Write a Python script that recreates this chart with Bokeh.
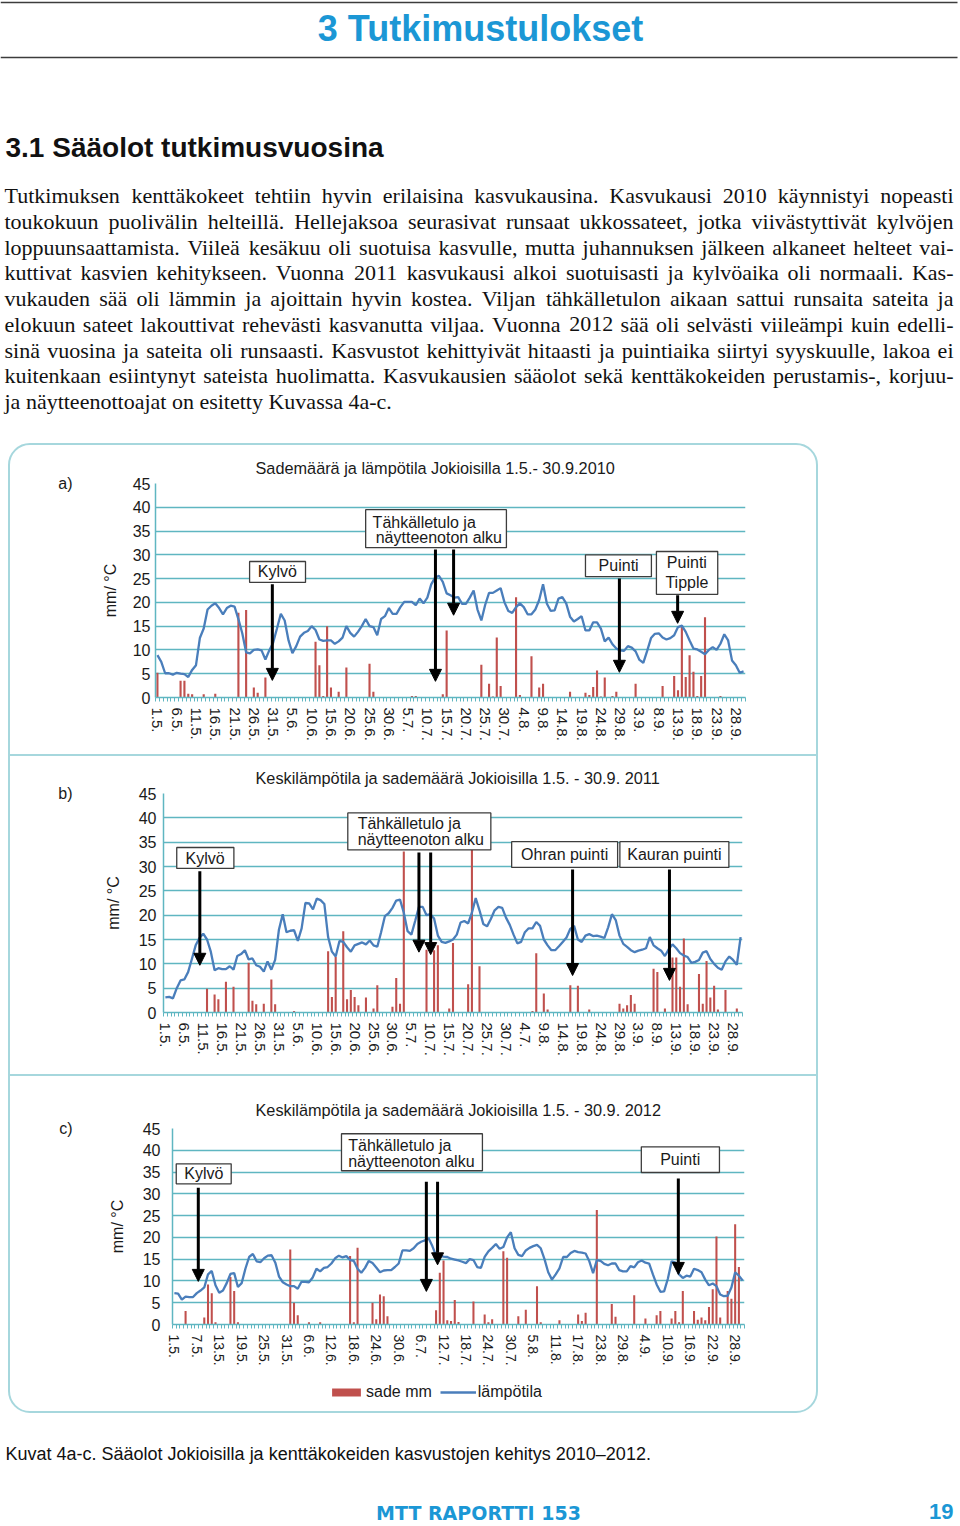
import math
from bokeh.plotting import figure
from bokeh.models import (Range1d, FixedTicker, Arrow, NormalHead, Legend, LegendItem, LinearAxis)
from bokeh.layouts import column
from bokeh.core.properties import value
from bokeh.embed import file_html
from bokeh.resources import INLINE

# ------------------------------------------------------------------ data
# daily mean temperature (deg C), 1.5. - 30.9. (153 days)
temp_2010 = [
    8.9, 7.5, 5.1, 5.1, 4.8, 5.2, 5.0, 4.9, 4.3, 5.8,
    6.8, 12.5, 14.5, 18.5, 19.3, 19.8, 18.8, 17.5, 18.8, 19.3,
    19.1, 16.5, 13.5, 9.5, 9.3, 10.0, 10.1, 9.9, 8.0, 9.9,
    11.5, 14.5, 17.6, 16.2, 12.0, 9.3, 10.8, 12.8, 13.6, 14.0,
    15.0, 14.2, 12.2, 11.9, 12.0, 12.0, 11.3, 11.8, 12.6, 15.0,
    13.6, 12.8, 13.8, 15.0, 16.5, 15.0, 14.8, 13.1, 16.5, 17.1,
    18.8, 17.6, 17.6, 19.0, 20.1, 20.1, 20.1, 19.4, 20.8, 19.8,
    21.0, 23.8, 25.2, 25.6, 24.3, 21.9, 21.5, 21.0, 21.1, 19.7,
    19.7, 21.0, 22.5, 18.5, 16.2, 19.5, 22.0, 22.0, 22.5, 23.0,
    20.0, 18.2, 17.8, 19.0, 19.8, 19.0, 17.5, 17.5, 18.5, 20.5,
    23.8, 19.7, 18.2, 18.3, 20.8, 21.1, 19.8, 17.0, 16.0, 16.5,
    17.1, 14.1, 14.1, 15.8, 15.8, 14.5, 11.8, 12.6, 11.2, 10.3,
    9.9, 9.8, 10.8, 10.5, 9.7, 7.9, 7.3, 9.8, 12.5, 13.4,
    13.5, 12.6, 12.2, 12.5, 13.1, 14.8, 15.1, 13.8, 12.0, 10.3,
    10.1, 9.6, 9.1, 10.0, 10.6, 10.0, 11.3, 13.3, 12.0, 7.8,
    6.8, 5.2, 5.5]
temp_2011 = [
    3.1, 3.2, 2.9, 5.0, 6.6, 6.8, 8.3, 11.0, 13.8, 15.3,
    16.2, 15.0, 12.5, 8.7, 9.1, 8.9, 8.9, 9.5, 8.8, 11.6,
    12.0, 12.8, 10.9, 11.1, 9.7, 9.4, 8.4, 10.5, 8.8, 10.8,
    17.0, 20.2, 16.5, 16.8, 16.9, 14.7, 17.3, 22.5, 22.4, 21.2,
    23.4, 23.1, 22.3, 15.5, 12.5, 11.5, 14.7, 14.5, 13.4, 12.5,
    13.8, 14.1, 14.4, 14.0, 14.8, 13.8, 13.5, 16.5, 19.8, 20.4,
    21.5, 23.0, 23.2, 20.5, 16.7, 16.0, 18.8, 21.7, 21.7, 20.0,
    20.2, 19.3, 15.8, 14.5, 14.3, 14.6, 15.0, 16.0, 18.5, 18.8,
    18.3, 20.5, 23.5, 21.0, 18.2, 17.7, 19.2, 21.0, 21.7, 21.5,
    19.5, 18.0, 16.0, 14.2, 14.5, 16.5, 17.3, 17.3, 18.6, 17.8,
    15.0, 13.8, 12.8, 12.8, 13.6, 14.5, 15.4, 17.2, 17.8, 15.0,
    14.5, 15.8, 16.1, 15.7, 15.8, 15.6, 15.3, 17.5, 20.2, 19.0,
    15.8, 14.1, 13.5, 12.8, 12.4, 12.7, 12.9, 13.2, 15.5, 13.8,
    13.2, 12.7, 11.6, 13.0, 14.0, 13.2, 12.2, 11.7, 11.4, 10.2,
    10.4, 10.8, 12.3, 12.6, 11.0, 10.0, 9.2, 8.8, 10.5, 11.5,
    10.8, 9.8, 15.5]
temp_2012 = [
    7.2, 7.1, 5.7, 6.4, 6.3, 6.3, 7.2, 7.8, 8.5, 11.5,
    12.3, 9.0, 7.3, 7.8, 9.5, 11.6, 11.8, 8.6, 9.5, 12.8,
    15.5, 16.2, 14.5, 14.3, 15.2, 15.8, 15.9, 14.2, 11.0, 9.7,
    9.2, 8.8, 8.8, 8.2, 9.8, 9.8, 9.7, 10.8, 12.8, 12.2,
    13.0, 13.2, 14.0, 15.2, 15.8, 15.4, 15.7, 14.8, 14.6, 12.8,
    11.9, 13.0, 14.6, 14.1, 13.1, 12.0, 12.4, 12.5, 12.5, 13.2,
    14.0, 17.0, 17.0, 16.9, 17.5, 18.5, 19.0, 19.3, 19.8, 18.0,
    15.8, 15.8, 15.6, 15.5, 15.1, 14.9, 14.7, 14.4, 14.1, 15.0,
    14.8, 13.2, 13.0, 15.5, 16.8, 17.6, 18.5, 17.4, 17.8, 20.0,
    21.2, 17.5, 16.0, 15.7, 17.0, 17.6, 18.0, 18.3, 17.5, 15.0,
    12.0, 10.3, 11.5, 12.9, 15.5, 15.5, 16.4, 16.9, 16.6, 16.5,
    16.3, 14.5, 11.8, 14.8, 14.6, 13.9, 13.6, 14.0, 14.0, 12.5,
    12.2, 12.2, 13.4, 13.1, 14.3, 14.7, 14.2, 14.0, 11.5, 9.2,
    7.5, 7.6, 10.5, 14.5, 14.2, 11.5, 10.7, 11.2, 11.0, 12.8,
    12.5, 12.0, 10.3, 9.0, 9.4, 8.8, 6.9, 6.5, 6.6, 8.5,
    12.0, 11.2, 10.1]

# daily rainfall (mm): day index (0 = 1.5.) and amount
rain_2010_day = [0, 6, 7, 8, 9, 12, 15, 21, 23, 25, 26, 28, 41, 42, 43, 44, 45, 47, 49, 55,
                 56, 66, 67, 74, 75, 84, 86, 87, 88, 89, 93, 94, 97, 99, 100, 107, 111, 112, 113, 114,
                 115, 116, 118, 119, 124, 131, 134, 135, 136, 137, 138, 139, 140, 141, 142, 146]
rain_2010_mm = [5.2, 3.5, 3.5, 0.8, 0.7, 0.7, 0.8, 17.8, 18.4, 2.1, 1.0, 4.2, 11.7, 6.8, 0.3, 15.0, 2.1, 1.2, 6.3, 7.1,
                1.2, 0.3, 0.3, 0.7, 14.1, 6.9, 2.9, 0.2, 12.6, 2.4, 21.1, 0.5, 8.7, 2.1, 2.9, 1.2, 1.0, 0.5, 2.2, 5.7,
                0.2, 4.2, 0.3, 1.2, 2.9, 2.4, 4.5, 1.5, 14.8, 4.3, 8.9, 5.4, 0.3, 4.5, 16.9, 0.3]
rain_2011_day = [11, 13, 14, 16, 18, 22, 23, 24, 26, 28, 29, 34, 43, 44, 45, 47, 48, 49, 50, 51,
                 53, 55, 56, 60, 61, 62, 63, 69, 71, 72, 75, 76, 80, 81, 83, 97, 98, 100, 101, 107,
                 109, 112, 120, 121, 122, 123, 124, 129, 130, 132, 134, 135, 136, 137, 138, 141, 142, 143, 144, 145,
                 146, 148, 151]
rain_2011_mm = [4.9, 3.7, 2.7, 6.3, 5.3, 10.2, 2.4, 1.7, 1.8, 6.8, 1.7, 0.3, 12.6, 3.2, 11.4, 16.7, 2.7, 4.6, 3.2, 1.5,
                3.1, 0.8, 5.6, 1.2, 7.1, 1.8, 33.1, 12.9, 12.8, 13.8, 0.8, 14.3, 5.8, 40.1, 9.5, 0.3, 12.2, 3.9, 0.6, 5.6,
                5.5, 0.6, 1.8, 0.8, 1.5, 3.6, 1.8, 9.0, 8.3, 0.8, 11.3, 11.3, 5.3, 15.2, 1.7, 7.9, 1.8, 10.6, 3.1, 5.5,
                0.6, 4.6, 0.8]
rain_2012_day = [3, 8, 9, 10, 11, 15, 16, 17, 31, 32, 33, 36, 39, 47, 48, 49, 53, 54, 55, 56,
                 57, 70, 71, 72, 73, 74, 75, 76, 80, 83, 84, 85, 88, 89, 92, 94, 97, 98, 103, 108,
                 109, 110, 113, 117, 118, 123, 126, 129, 130, 133, 134, 135, 136, 139, 140, 141, 142, 143, 144, 145,
                 146, 148, 149, 150, 151]
rain_2012_mm = [3.1, 1.6, 9.2, 7.2, 0.5, 10.9, 7.7, 0.5, 17.2, 5.0, 2.1, 0.5, 0.5, 15.7, 0.5, 17.6, 5.0, 1.2, 6.9, 6.5,
                1.9, 3.3, 11.9, 14.7, 1.0, 0.8, 5.6, 0.6, 5.3, 2.3, 0.5, 1.2, 16.8, 15.3, 1.9, 3.4, 8.8, 0.5, 1.0, 2.3,
                0.8, 2.7, 26.3, 4.7, 1.8, 6.7, 1.4, 2.1, 3.1, 1.4, 3.1, 0.5, 7.7, 3.1, 1.1, 1.6, 1.0, 4.0, 8.1, 20.2,
                1.6, 7.7, 5.9, 23.0, 13.2]

# x tick labels
ticks_5 = [0, 5, 10, 15, 20, 25, 30, 35, 40, 45, 50, 55, 60, 65, 70, 75, 80, 85, 90, 95,
           100, 105, 110, 115, 120, 125, 130, 135, 140, 145, 150]
labels_2010 = ["1.5.", "6.5.", "11.5.", "16.5.", "21.5.", "26.5.", "31.5.", "5.6.", "10.6.", "15.6.",
               "20.6.", "25.6.", "30.6.", "5.7.", "10.7.", "15.7.", "20.7.", "25.7.", "30.7.", "4.8.",
               "9.8.", "14.8.", "19.8.", "24.8.", "29.8.", "3.9.", "8.9.", "13.9.", "18.9.", "23.9.", "28.9."]
labels_2011 = ["1.5.", "6.5.", "11.5.", "16.5.", "21.5.", "26.5.", "31.5.", "5.6.", "10.6.", "15.6.",
               "20.6.", "25.6.", "30.6.", "5.7.", "10.7.", "15.7.", "20.7.", "25.7.", "30.7.", "4.7.",
               "9.8.", "14.8.", "19.8.", "24.8.", "29.8.", "3.9.", "8.9.", "13.9.", "18.9.", "23.9.", "28.9."]
ticks_6 = [0, 6, 12, 18, 24, 30, 36, 42, 48, 54, 60, 66, 72, 78, 84, 90, 96, 102, 108, 114,
           120, 126, 132, 138, 144, 150]
labels_2012 = ["1.5.", "7.5.", "13.5.", "19.5.", "25.5.", "31.5.", "6.6.", "12.6.", "18.6.", "24.6.",
               "30.6.", "6.7.", "12.7.", "18.7.", "24.7.", "30.7.", "5.8.", "11.8.", "17.8.", "23.8.",
               "29.8.", "4.9.", "10.9.", "16.9.", "22.9.", "28.9."]
y_ticks = [0, 5, 10, 15, 20, 25, 30, 35, 40, 45]

# ------------------------------------------------------------------ style
FONT = "Liberation Sans"
SANS = value(FONT)
SERIF = value("Liberation Serif")
GRID = "#5fb6c1"
BOXLINE = "#a6d7dd"
TEMP_C = "#4a7ebb"
RAIN_C = "#c0504d"
BLUE = "#1b97d5"
TXT = "#1a1a1a"


def make_chart(height, borders, temp, rain_day, rain_mm, ticks, tick_labels, title, title_offset,
               title_standoff, x_label_size, y_label_standoff, y_title_standoff, letter, letter_standoff,
               boxes, center_texts, left_texts, arrows, styles=None):
    bl, br, bt, bb = borders
    p = figure(width=806, height=height, x_range=Range1d(-0.5, 152.5), y_range=Range1d(0, 45),
               output_backend="svg", toolbar_location=None,
               min_border_left=bl, min_border_right=br, min_border_top=bt, min_border_bottom=bb,
               border_fill_color=None, outline_line_color=None, styles=styles or {})
    p.title.text = title
    p.title.align = "left"
    p.title.offset = title_offset
    p.title.standoff = title_standoff
    p.title.text_font = FONT
    p.title.text_font_size = "16.3px"
    p.title.text_font_style = "normal"
    p.title.text_color = TXT

    xa = p.xaxis[0]
    xa.ticker = FixedTicker(ticks=ticks, minor_ticks=[i - 0.5 for i in range(154)])
    xa.major_label_overrides = {t: l for t, l in zip(ticks, tick_labels)}
    xa.major_label_orientation = "vertical"
    xa.major_label_text_font = FONT
    xa.major_label_text_font_size = x_label_size
    xa.major_label_text_color = TXT
    xa.major_tick_out = 0
    xa.major_tick_in = 0
    xa.minor_tick_out = 4
    xa.minor_tick_in = 0
    xa.minor_tick_line_color = GRID
    xa.axis_line_color = GRID
    xa.axis_line_width = 1.5
    xa.major_label_standoff = 6

    ya = p.yaxis[0]
    ya.ticker = FixedTicker(ticks=y_ticks)
    ya.major_tick_out = 0
    ya.major_tick_in = 0
    ya.minor_tick_out = 0
    ya.minor_tick_in = 0
    ya.axis_line_color = GRID
    ya.axis_line_width = 1.5
    ya.major_label_text_font = FONT
    ya.major_label_text_font_size = "16px"
    ya.major_label_text_color = TXT
    ya.major_label_standoff = y_label_standoff
    ya.axis_label = "mm/ °C"
    ya.axis_label_text_font = FONT
    ya.axis_label_text_font_size = "16px"
    ya.axis_label_text_font_style = "normal"
    ya.axis_label_text_color = TXT
    ya.axis_label_standoff = y_title_standoff

    # panel letter (a/b/c) shown as the label of an outer, line-less axis at the top tick
    la = LinearAxis(ticker=FixedTicker(ticks=[45], minor_ticks=[]),
                    major_label_overrides={45: letter},
                    axis_line_color=None, major_tick_line_color=None, minor_tick_line_color=None,
                    major_tick_out=0, major_tick_in=0, minor_tick_out=0, minor_tick_in=0,
                    major_label_standoff=letter_standoff, major_label_text_font=FONT,
                    major_label_text_font_size="16px", major_label_text_color=TXT)
    p.add_layout(la, "left")

    p.xgrid.grid_line_color = None
    p.ygrid.ticker = FixedTicker(ticks=y_ticks)
    p.ygrid.grid_line_color = GRID
    p.ygrid.grid_line_width = 1.6

    p.vbar(x=rain_day, top=rain_mm, width=0.55, fill_color=RAIN_C, line_color=None)
    p.line(x=list(range(len(temp))), y=temp, line_color=TEMP_C, line_width=2.3)

    p.quad(left=[b[0] for b in boxes], right=[b[1] for b in boxes],
           top=[b[2] for b in boxes], bottom=[b[3] for b in boxes],
           fill_color="white", line_color="#3d3d3d", line_width=1.3)
    if center_texts:
        p.text(x=[t[1] for t in center_texts], y=[t[2] for t in center_texts],
               text=[t[0] for t in center_texts], text_align="center", text_baseline="middle",
               text_font=SANS, text_font_size="16px", text_color=TXT)
    if left_texts:
        p.text(x=[t[1] for t in left_texts], y=[t[2] for t in left_texts],
               text=[t[0] for t in left_texts], text_align="left", text_baseline="middle",
               text_font=SANS, text_font_size="16px", text_color=TXT)
    for (x0, y0, x1, y1) in arrows:
        p.add_layout(Arrow(end=NormalHead(size=12, fill_color="black", line_color="black", line_width=1),
                           x_start=x0, y_start=y0, x_end=x1, y_end=y1,
                           line_width=3, line_color="black"))
    return p


SEP = {"border-bottom": f"2px solid {BOXLINE}"}

pa = make_chart(
    311, (145, 71, 38, 59), temp_2010, rain_2010_day, rain_2010_mm, ticks_5, labels_2010,
    "Sademäärä ja lämpötila Jokioisilla 1.5.- 30.9.2010", 100, 13, "15px", 5, 11, "a)", 26,
    boxes=[(23.9, 38.4, 28.6, 24.2), (54.0, 90.5, 39.5, 31.5), (111.0, 128.1, 30.0, 25.4),
           (129.4, 145.3, 30.7, 21.7)],
    center_texts=[("Kylvö", 31.1, 26.4), ("Puinti", 119.6, 27.7), ("Puinti", 137.3, 28.4),
                  ("Tipple", 137.3, 24.2)],
    left_texts=[("Tähkälletulo ja", 55.8, 36.9), ("näytteenoton alku", 56.6, 33.6)],
    arrows=[(29.8, 23.8, 29.8, 3.6), (72.1, 31.1, 72.1, 3.4), (76.8, 31.1, 76.8, 17.3),
            (119.8, 25.0, 119.8, 5.3), (134.9, 21.5, 134.9, 15.6)],
    styles=SEP)

pb = make_chart(
    320, (153, 74, 37, 64), temp_2011, rain_2011_day, rain_2011_mm, ticks_5, labels_2011,
    "Keskilämpötila ja sademäärä Jokioisilla 1.5. - 30.9. 2011", 92, 13, "15px", 7, 14, "b)", 29,
    boxes=[(3.0, 18.1, 33.9, 29.6), (48.2, 86.0, 41.0, 33.4), (91.5, 119.5, 35.1, 29.8),
           (120.1, 148.9, 35.1, 29.8)],
    center_texts=[("Kylvö", 10.5, 31.7), ("Ohran puinti", 105.5, 32.4), ("Kauran puinti", 134.5, 32.4)],
    left_texts=[("Tähkälletulo ja", 50.8, 38.8), ("näytteenoton alku", 50.8, 35.6)],
    arrows=[(9.1, 29.0, 9.1, 9.7), (67.0, 32.9, 67.0, 12.4), (70.1, 32.9, 70.1, 11.9),
            (107.6, 29.4, 107.6, 7.6), (133.2, 29.4, 133.2, 6.6)],
    styles=SEP)

pc = make_chart(
    300, (162, 72, 52, 52), temp_2012, rain_2012_day, rain_2012_mm, ticks_6, labels_2012,
    "Keskilämpötila ja sademäärä Jokioisilla 1.5. - 30.9. 2012", 83, 20, "14px", 12, 14, "c)", 33,
    boxes=[(0.5, 15.2, 36.9, 32.3), (44.7, 82.4, 43.8, 35.3), (124.9, 145.8, 40.8, 34.9)],
    center_texts=[("Kylvö", 7.9, 34.6), ("Puinti", 135.3, 37.9)],
    left_texts=[("Tähkälletulo ja", 46.5, 41.0), ("näytteenoton alku", 46.5, 37.4)],
    arrows=[(6.4, 31.4, 6.4, 9.9), (67.4, 32.8, 67.4, 7.6), (70.4, 32.8, 70.4, 13.7),
            (134.8, 33.5, 134.8, 11.5)])

# legend strip for panel c: the 2012 series again, as hidden renderers that feed the legend
pleg = figure(width=806, height=35, x_range=Range1d(0, 1), y_range=Range1d(0, 1),
              output_backend="svg", toolbar_location=None, min_border_left=162, min_border_right=72,
              min_border_top=0, min_border_bottom=0, x_axis_location=None, y_axis_location=None,
              outline_line_color=None, border_fill_color=None, background_fill_color=None)
pleg.grid.visible = False
leg_bar = pleg.vbar(x=rain_2012_day, top=rain_2012_mm, width=0.55, fill_color=RAIN_C, line_color=None,
                    visible=False)
leg_line = pleg.line(x=list(range(len(temp_2012))), y=temp_2012, line_color=TEMP_C, line_width=2.3,
                     visible=False)
legend = Legend(items=[LegendItem(label="sade mm", renderers=[leg_bar]),
                       LegendItem(label="lämpötila", renderers=[leg_line])],
                orientation="horizontal", location=(156, 9), glyph_width=36, glyph_height=10,
                label_standoff=2, spacing=8, padding=0, margin=0, border_line_color=None,
                background_fill_alpha=0, inactive_fill_alpha=0, label_text_font=FONT,
                label_text_font_size="16px", label_text_color=TXT, label_height=20)
pleg.add_layout(legend)

charts = column(column(pa), column(pb), column(pc), column(pleg), spacing=0,
                styles={"border": f"2px solid {BOXLINE}", "border-radius": "22px",
                        "margin-left": "8px"})

# ------------------------------------------------------------------ page text
top = figure(width=960, height=443, x_range=Range1d(0, 960), y_range=Range1d(443, 0),
             output_backend="svg", toolbar_location=None, min_border=0,
             x_axis_location=None, y_axis_location=None, outline_line_color=None)
top.grid.visible = False
top.segment(x0=[0, 0], y0=[2, 57], x1=[957, 957], y1=[2, 57], line_color="#3c3c3c", line_width=1.6)
top.text(x=[480], y=[28], text=["3 Tutkimustulokset"], text_align="center", text_baseline="middle",
         text_font=SANS, text_font_style="bold", text_font_size="36px", text_color=BLUE)
top.text(x=[5], y=[147], text=["3.1 Sääolot tutkimusvuosina"], text_align="left",
         text_baseline="middle", text_font=SANS, text_font_style="bold", text_font_size="28px",
         text_color="#111111")

para_lines = [
    "Tutkimuksen kenttäkokeet tehtiin hyvin erilaisina kasvukausina. Kasvukausi 2010 käynnistyi nopeasti",
    "toukokuun puolivälin helteillä. Hellejaksoa seurasivat runsaat ukkossateet, jotka viivästyttivät kylvöjen",
    "loppuunsaattamista. Viileä kesäkuu oli suotuisa kasvulle, mutta juhannuksen jälkeen alkaneet helteet vai-",
    "kuttivat kasvien kehitykseen. Vuonna 2011 kasvukausi alkoi suotuisasti ja kylvöaika oli normaali. Kas-",
    "vukauden sää oli lämmin ja ajoittain hyvin kostea. Viljan tähkälletulon aikaan sattui runsaita sateita ja",
    "elokuun sateet lakouttivat rehevästi kasvanutta viljaa. Vuonna 2012 sää oli selvästi viileämpi kuin edelli-",
    "sinä vuosina ja sateita oli runsaasti. Kasvustot kehittyivät hitaasti ja puintiaika siirtyi syyskuulle, lakoa ei",
    "kuitenkaan esiintynyt sateista huolimatta. Kasvukausien sääolot sekä kenttäkokeiden perustamis-, korjuu-",
    "ja näytteenottoajat on esitetty Kuvassa 4a-c.",
]
# Times-compatible advance widths (1/1000 em) for justified layout
TW = {" ": 250, ".": 250, ",": 250, "-": 333, "a": 444, "b": 500, "c": 444, "d": 500, "e": 444,
      "f": 333, "g": 500, "h": 500, "i": 278, "j": 278, "k": 500, "l": 278, "m": 778, "n": 500,
      "o": 500, "p": 500, "q": 500, "r": 333, "s": 389, "t": 278, "u": 500, "v": 500, "w": 722,
      "x": 500, "y": 500, "z": 444, "ä": 444, "ö": 500, "K": 722, "T": 611, "V": 722, "H": 722,
      "C": 667}
PSIZE = 22.0
P_LEFT, P_RIGHT = 4.0, 953.0


def tw(s):
    return sum(TW.get(c, 500) for c in s) / 1000.0 * PSIZE


wx, wy, wt = [], [], []
for k, ln in enumerate(para_lines):
    words = ln.split()
    yy = 195 + k * 25.75
    if k < len(para_lines) - 1:
        gap = (P_RIGHT - P_LEFT - sum(tw(w) for w in words)) / (len(words) - 1)
    else:
        gap = tw(" ")
    xx = P_LEFT
    for w in words:
        wx.append(xx)
        wy.append(yy)
        wt.append(w)
        xx += tw(w) + gap
top.text(x=wx, y=wy, text=wt, text_align="left", text_baseline="middle", text_font=SERIF,
         text_font_size=f"{PSIZE}px", text_color="#111111")

bottom = figure(width=960, height=111, x_range=Range1d(0, 960), y_range=Range1d(1524, 1413),
                output_backend="svg", toolbar_location=None, min_border=0,
                x_axis_location=None, y_axis_location=None, outline_line_color=None)
bottom.grid.visible = False
bottom.text(x=[5], y=[1453],
            text=["Kuvat 4a-c. Sääolot Jokioisilla ja kenttäkokeiden kasvustojen kehitys 2010–2012."],
            text_align="left", text_baseline="middle", text_font=SANS, text_font_size="18px",
            text_color="#111111")
bottom.text(x=[478], y=[1512], text=["MTT RAPORTTI 153"], text_align="center", text_baseline="middle",
            text_font=value("DejaVu Sans"), text_font_style="bold", text_font_size="19px", text_color=BLUE)
bottom.text(x=[953], y=[1511], text=["19"], text_align="right", text_baseline="middle",
            text_font=SANS, text_font_style="bold", text_font_size="22px", text_color=BLUE)

page = column(top, charts, bottom, spacing=0)
open("out.html", "w").write(file_html(page, INLINE))
